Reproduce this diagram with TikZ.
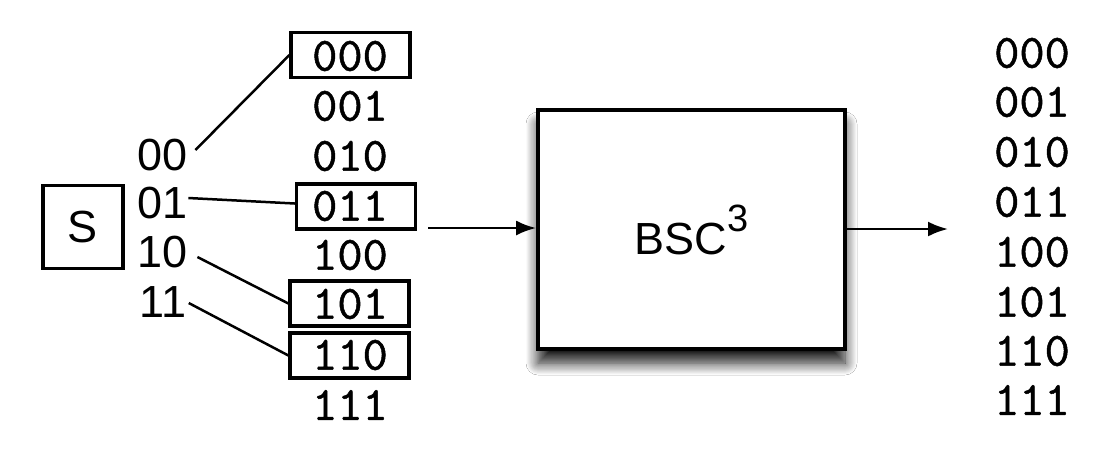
\documentclass[tikz,border=0pt]{standalone}
\usepackage{fontspec}
\setsansfont{Liberation Sans}
\newfontfamily\codefont{lmmono10-regular.otf}[FakeBold=1]
\usetikzlibrary{arrows.meta,shadows.blur,calc}
\begin{document}
\begin{tikzpicture}[x=0.5pt,y=-0.5pt,
  sanslab/.style={font=\sffamily\fontsize{22.5}{22.5}\selectfont, inner sep=0pt},
  code/.style={font=\codefont\fontsize{24}{24}\selectfont, inner sep=0pt},
  cbox/.style={draw, line width=1.6pt, minimum width=59.5pt, minimum height=22.5pt, inner sep=0pt},
  link/.style={line width=1.25pt},
  flow/.style={line width=1.25pt, -{Latex[length=10pt,width=7.5pt]}},
  chanbox/.style={draw, line width=1.9pt, fill=white, minimum width=153.5pt, minimum height=119.5pt,
    blur shadow={shadow xshift=0pt, shadow yshift=-7pt, shadow blur radius=6pt, shadow opacity=90, shadow blur steps=12}}
]
\useasboundingbox[fill=white] (0,0) rectangle (1111,463);

% source
\node[draw, line width=1.6pt, minimum width=40pt, minimum height=41.5pt, sanslab] (src) at (83,227) {S};

% source words
\node[sanslab] (l00) at (163,155) {00};
\node[sanslab] (l01) at (163,203) {01};
\node[sanslab] (l10) at (163,252) {10};
\node[sanslab] (l11) at (163,302) {11};

% code boxes
\node[cbox] (b000) at (350.5,55) {};
\node[cbox] (b011) at (356,206.5) {};
\node[cbox] (b101) at (349.5,303.5) {};
\node[cbox] (b110) at (349.5,355.5) {};

% middle column
\node[code] (c000) at (350,56) {000};
\node[code] (c001) at (350,106) {001};
\node[code] (c010) at (350,156) {010};
\node[code] (c011) at (350,206) {011};
\node[code] (c100) at (350,255) {100};
\node[code] (c101) at (350,304) {101};
\node[code] (c110) at (350,355) {110};
\node[code] (c111) at (350,405) {111};

% links
\draw[link] ($(l00.east)+(7,-5)$) -- (b000.west);
\draw[link] ($(l01.east)+(0,-5)$) -- ($(b011.west)+(0,-3)$);
\draw[link] ($(l10.east)+(9,5)$) -- (b101.west);
\draw[link] ($(l11.east)+(2,1)$) -- (b110.west);

% channel
\node[chanbox, sanslab] (bsc) at (691.5,229.5) {BSC\raisebox{11.5pt}{\fontsize{19}{19}\selectfont 3}};

\coordinate (ain) at (428,228);
\coordinate (aout) at (948,229);
\draw[flow] (ain) -- (ain -| bsc.west);
\draw[flow] (bsc.east |- aout) -- (aout);

% output column
\node[code] (o000) at (1032,53) {000};
\node[code] (o001) at (1032,102) {001};
\node[code] (o010) at (1032,152) {010};
\node[code] (o011) at (1032,202) {011};
\node[code] (o100) at (1032,252) {100};
\node[code] (o101) at (1032,302) {101};
\node[code] (o110) at (1032,351) {110};
\node[code] (o111) at (1032,400) {111};
\end{tikzpicture}
\end{document}
